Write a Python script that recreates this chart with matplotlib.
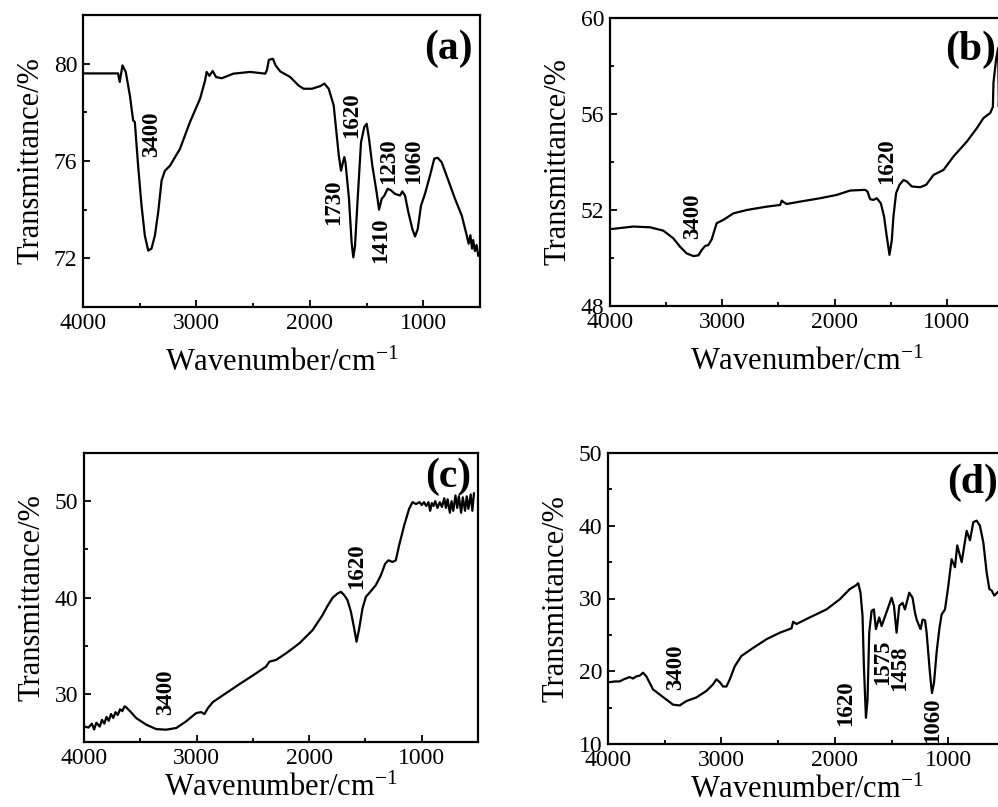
import matplotlib
matplotlib.use("Agg")
import matplotlib.pyplot as plt
from matplotlib.ticker import MultipleLocator

plt.rcParams['font.family'] = ['Liberation Serif', 'DejaVu Serif']
plt.rcParams['mathtext.fontset'] = 'custom'
plt.rcParams['mathtext.rm'] = 'Liberation Serif'
plt.rcParams['mathtext.it'] = 'Liberation Serif:italic'

# ---------------- panel (a) ----------------
a_wn = [4000, 3691, 3676, 3652, 3623, 3587, 3558, 3543, 3514, 3484, 3455, 3425, 3396, 3366, 3337,
        3307, 3278, 3234, 3145, 3057, 2968, 2924, 2910, 2886, 2857, 2827, 2777, 2674, 2526, 2394,
        2379, 2361, 2326, 2302, 2261, 2173, 2099, 2055, 1981, 1907, 1872, 1834, 1790, 1766, 1745,
        1725, 1708, 1696, 1685, 1655, 1632, 1617, 1602, 1579, 1549, 1520, 1499, 1478, 1449, 1411,
        1390, 1367, 1343, 1314, 1284, 1249, 1205, 1185, 1161, 1132, 1096, 1073, 1049, 1020, 985,
        941, 903, 873, 838, 779, 720, 661, 620, 600, 585, 570, 560, 545, 530, 515, 500]
a_tr = [79.6, 79.6, 79.25, 79.93, 79.66, 78.7, 77.67, 77.6, 75.8, 74.17, 72.94, 72.32, 72.4, 72.94, 73.9,
        75.2, 75.6, 75.8, 76.5, 77.6, 78.56, 79.3, 79.66, 79.5, 79.7, 79.45, 79.4, 79.59, 79.66, 79.59,
        79.73, 80.16, 80.2, 79.93, 79.68, 79.45, 79.1, 78.97, 78.97, 79.08, 79.18, 78.97, 78.29, 77.19, 76.23,
        75.6, 75.95, 76.16, 75.9, 74.44, 72.66, 72.04, 72.5, 74.4, 76.77, 77.4, 77.53, 76.9, 75.8, 74.7,
        74.0, 74.44, 74.58, 74.86, 74.79, 74.65, 74.58, 74.75, 74.58, 73.9, 73.2, 72.9, 73.2, 74.17, 74.65,
        75.4, 76.1, 76.13, 75.95, 75.2, 74.44, 73.76, 73.0, 72.6, 72.95, 72.4, 72.75, 72.3, 72.55, 72.1, 72.2]
a_ylim = (70, 82)
a_yticks = [72, 76, 80]
a_labels = ["3400", "1730", "1620", "1410", "1230", "1060"]
a_lab_x = [3391, 1793, 1635, 1379, 1308, 1087]
a_lab_y = [77.1, 74.3, 77.9, 72.76, 76.0, 76.0]

# ---------------- panel (b) ----------------
b_wn = [4000, 3792, 3644, 3525, 3436, 3376, 3317, 3257, 3213, 3183, 3154, 3124, 3094, 3050, 2990,
        2901, 2782, 2604, 2485, 2470, 2455, 2426, 2307, 2129, 1980, 1862, 1728, 1707, 1683, 1654,
        1624, 1588, 1559, 1535, 1511, 1490, 1476, 1452, 1422, 1386, 1357, 1312, 1238, 1184, 1119,
        1030, 941, 822, 733, 674, 614, 590, 585, 561, 543, 537, 532, 520, 500]
b_tr = [51.2, 51.31, 51.28, 51.14, 50.82, 50.47, 50.19, 50.08, 50.11, 50.33, 50.5, 50.54, 50.78, 51.45, 51.59,
        51.86, 52.0, 52.14, 52.21, 52.39, 52.33, 52.25, 52.35, 52.49, 52.63, 52.81, 52.84, 52.77, 52.45, 52.42,
        52.49, 52.28, 51.72, 50.89, 50.13, 50.75, 51.72, 52.7, 53.05, 53.25, 53.19, 52.98, 52.95, 53.05, 53.46,
        53.67, 54.23, 54.85, 55.41, 55.83, 56.04, 56.3, 57.3, 58.3, 58.75, 56.3, 57.0, 57.5, 58.0]
b_ylim = (48, 60)
b_yticks = [48, 52, 56, 60]
b_labels = ["3400", "1620"]
b_lab_x = [3261, 1533]
b_lab_y = [51.75, 54.04]

# ---------------- panel (c) ----------------
c_wn = [3994, 3960, 3930, 3910, 3890, 3860, 3840, 3820, 3800, 3780, 3760, 3740, 3720, 3700, 3680,
        3660, 3640, 3625, 3589, 3536, 3447, 3359, 3270, 3181, 3093, 3004, 2960, 2930, 2900, 2856,
        2738, 2620, 2501, 2383, 2353, 2294, 2206, 2087, 1969, 1881, 1836, 1792, 1748, 1718, 1688,
        1659, 1629, 1600, 1579, 1555, 1526, 1496, 1452, 1408, 1363, 1325, 1295, 1260, 1230, 1201,
        1156, 1112, 1082, 1050, 1020, 1000, 980, 960, 940, 925, 910, 895, 880, 860, 840,
        820, 800, 785, 770, 750, 735, 720, 700, 685, 670, 650, 635, 615, 600, 585,
        565, 550, 536]
c_tr = [26.6, 26.5, 26.9, 26.3, 27.0, 26.6, 27.3, 26.9, 27.6, 27.2, 27.9, 27.5, 28.1, 27.8, 28.4,
        28.2, 28.7, 28.6, 28.17, 27.48, 26.8, 26.34, 26.28, 26.45, 27.14, 28.0, 28.1, 27.9, 28.5, 29.14,
        30.07, 31.0, 31.9, 32.83, 33.34, 33.52, 34.2, 35.24, 36.62, 38.17, 39.14, 39.97, 40.41, 40.59, 40.24,
        39.72, 38.52, 36.8, 35.41, 36.8, 38.86, 40.07, 40.66, 41.28, 42.3, 43.5, 43.86, 43.69, 43.86, 45.4,
        47.48, 49.2, 49.9, 49.7, 49.9, 49.6, 49.9, 49.5, 49.9, 49.0, 49.8, 49.5, 50.0, 49.3, 49.9,
        49.4, 50.3, 49.3, 50.2, 48.8, 50.0, 49.0, 50.6, 49.3, 50.5, 48.8, 50.4, 49.0, 50.5, 49.2,
        50.7, 49.0, 50.8]
c_ylim = (25, 55)
c_yticks = [30, 40, 50]
c_labels = ["3400", "1620"]
c_lab_x = [3274, 1575]
c_lab_y = [30.2, 43.3]

# ---------------- panel (d) ----------------
d_wn = [3985, 3940, 3897, 3860, 3809, 3780, 3750, 3720, 3691, 3662, 3603, 3544, 3485, 3426, 3368,
        3309, 3221, 3132, 3074, 3044, 3015, 2985, 2956, 2926, 2882, 2824, 2721, 2603, 2485, 2382,
        2368, 2338, 2221, 2074, 1956, 1868, 1815, 1794, 1774, 1756, 1744, 1726, 1712, 1697, 1676,
        1656, 1638, 1609, 1588, 1559, 1529, 1500, 1479, 1456, 1432, 1403, 1382, 1344, 1315, 1294,
        1279, 1256, 1244, 1226, 1205, 1191, 1162, 1144, 1126, 1103, 1079, 1059, 1029, 1000, 971,
        941, 921, 882, 838, 809, 779, 750, 721, 691, 662, 638, 618, 594, 562, 500]
d_tr = [18.5, 18.6, 18.6, 18.9, 19.2, 19.0, 19.3, 19.4, 19.8, 19.3, 17.5, 16.8, 16.1, 15.4, 15.3,
        15.9, 16.4, 17.3, 18.2, 18.9, 18.5, 17.9, 17.9, 18.9, 20.7, 22.1, 23.2, 24.4, 25.3, 25.9,
        26.8, 26.5, 27.4, 28.5, 29.9, 31.3, 31.8, 32.1, 30.8, 27.6, 20.7, 13.6, 16.1, 25.3, 28.3,
        28.5, 25.8, 27.4, 26.2, 27.5, 28.8, 30.1, 29.0, 25.3, 29.0, 29.4, 28.5, 30.8, 30.1, 28.1,
        27.1, 26.2, 25.8, 27.1, 27.0, 25.3, 19.8, 17.0, 18.4, 22.6, 25.8, 27.8, 28.5, 31.7, 35.4,
        34.3, 37.3, 35.0, 39.3, 38.0, 40.5, 40.7, 40.0, 37.7, 33.6, 31.3, 31.1, 30.4, 30.9, 31.5]
d_ylim = (10, 50)
d_yticks = [10, 20, 30, 40, 50]
d_labels = ["3400", "1620", "1575", "1458", "1060"]
d_lab_x = [3400, 1908, 1582, 1432, 1140]
d_lab_y = [20.6, 15.6, 21.3, 20.4, 13.3]

x_ticks = [4000, 3000, 2000, 1000]
x_tick_labels = ["4000", "3000", "2000", "1000"]
xlabel = r"Wavenumber/cm$^{\mathrm{-1}}$"
ylabel = "Transmittance/%"

W, H = 998, 807
fig = plt.figure(figsize=(W / 100, H / 100), dpi=100)

panels = [
    ("(a)", a_wn, a_tr, a_ylim, a_yticks, a_labels, a_lab_x, a_lab_y, (83, 15, 480, 307), 0.884, 11),
    ("(b)", b_wn, b_tr, b_ylim, b_yticks, b_labels, b_lab_x, b_lab_y, (610, 18, 1003, 306), 0.889, 11),
    ("(c)", c_wn, c_tr, c_ylim, c_yticks, c_labels, c_lab_x, c_lab_y, (84, 453, 478, 742), 0.917, 4),
    ("(d)", d_wn, d_tr, d_ylim, d_yticks, d_labels, d_lab_x, d_lab_y, (608, 453, 1005, 744), 0.897, 4),
]

for tag, wn, tr, ylim, yticks, labs, lx, ly, box, tagy, xlpad in panels:
    l, t, r, b = box
    ax = fig.add_axes([l / W, 1 - b / H, (r - l) / W, (b - t) / H])
    ax.plot(wn, tr, color='black', lw=1.6)
    ax.set_xlim(4000, 500)
    ax.set_ylim(*ylim)
    ax.set_xticks(x_ticks)
    ax.set_xticklabels(x_tick_labels)
    ax.set_yticks(yticks)
    ax.xaxis.set_minor_locator(MultipleLocator(500))
    step = yticks[1] - yticks[0]
    ax.yaxis.set_minor_locator(MultipleLocator(step / 2))
    ax.tick_params(which='both', direction='in', top=False, right=False, labelsize=17,
                   width=1.3)
    ax.tick_params(which='major', length=5, pad=4)
    ax.tick_params(which='minor', length=3)
    for s in ax.spines.values():
        s.set_linewidth(1.6)
    ax.set_xlabel(xlabel, fontsize=22, labelpad=xlpad)
    ax.set_ylabel(ylabel, fontsize=22, labelpad=6)
    for txt, x, y in zip(labs, lx, ly):
        ax.text(x, y, txt, rotation=90, ha='center', va='center', fontsize=16.5,
                fontweight='bold')
    ax.text(0.982, tagy, tag, transform=ax.transAxes, ha='right', va='center',
            fontsize=30, fontweight='bold')

fig.savefig("out.png", dpi=100)
